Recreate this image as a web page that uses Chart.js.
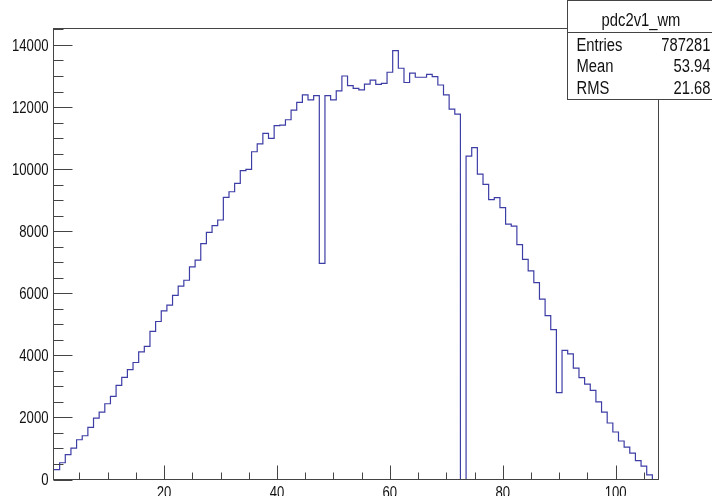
<!DOCTYPE html>
<html><head><meta charset="utf-8">
<script src="https://cdn.jsdelivr.net/npm/chart.js@4.4.1/dist/chart.umd.min.js"></script>
<style>html,body{margin:0;padding:0;background:#fff;overflow:hidden;width:712px;height:496px}canvas{display:block}</style>
</head><body><canvas id="c" width="712" height="515"></canvas>
<script>
const histName = 'pdc2v1_wm';
const xRange = [0.5, 107.5];
const counts = [
  320, 540, 800, 1010, 1280, 1410, 1680, 1980, 2170, 2440,
  2680, 3030, 3290, 3540, 3770, 4110, 4290, 4770, 5090, 5430,
  5620, 5930, 6230, 6420, 6850, 7070, 7600, 7960, 8180, 8360,
  9090, 9270, 9540, 9950, 9990, 10560, 10810, 11150, 10990, 11400,
  11420, 11590, 11900, 12150, 12390, 12230, 12370, 6960, 12370, 12230,
  12520, 13000, 12690, 12600, 12550, 12740, 12870, 12730, 12760, 13120,
  13820, 13250, 12790, 13090, 12960, 12960, 13050, 12980, 12710, 12390,
  11930, 11770, 0, 10420, 10690, 9840, 9510, 9020, 9080, 8760,
  8230, 8160, 7570, 7090, 6720, 6340, 5810, 5280, 4830, 2800,
  4160, 4050, 3590, 3280, 3070, 2870, 2500, 2170, 1820, 1530,
  1240, 1040, 850, 610, 430, 150, 0
];
const xMajorTicks = [20, 40, 60, 80, 100];
const xMinorTicks = [5, 10, 15, 25, 30, 35, 45, 50, 55, 65, 70, 75, 85, 90, 95, 105];
const yMajorTicks = [0, 2000, 4000, 6000, 8000, 10000, 12000, 14000];
const yMinorTicks = [500, 1000, 1500, 2500, 3000, 3500, 4500, 5000, 5500, 6500, 7000, 7500,
  8500, 9000, 9500, 10500, 11000, 11500, 12500, 13000, 13500, 14500];
const yMax = 14530;
const statsRows = [['Entries', '787281'], ['Mean', '53.94'], ['RMS', '21.68']];

const FONT = "'Liberation Sans', Arial, sans-serif";
const NARROW = 0.82;

const binWidth = (xRange[1] - xRange[0]) / counts.length;
const points = counts.map((v, i) => ({ x: xRange[0] + i * binWidth, y: v }));
points.push({ x: xRange[1], y: counts[counts.length - 1] });

function narrowText(ctx, text, x, y, align) {
  ctx.save();
  ctx.translate(x, y);
  ctx.scale(NARROW, 1);
  ctx.textAlign = align;
  ctx.textBaseline = 'alphabetic';
  ctx.fillText(text, 0, 0);
  ctx.restore();
}

const framePlugin = {
  id: 'frame',
  afterDatasetsDraw(chart) {
    const ctx = chart.ctx;
    const xs = chart.scales.x, ys = chart.scales.y;
    const L = 53.5, R = 658.5, T = 28.5, B = 479.5;
    ctx.save();
    ctx.strokeStyle = '#444';
    ctx.lineWidth = 1;
    ctx.strokeRect(L, T, R - L, B - T);
    ctx.beginPath();
    xMajorTicks.forEach(v => { const p = Math.round(xs.getPixelForValue(v)) + 0.5; ctx.moveTo(p, B); ctx.lineTo(p, B - 14); });
    xMinorTicks.forEach(v => { const p = Math.round(xs.getPixelForValue(v)) + 0.5; ctx.moveTo(p, B); ctx.lineTo(p, B - 7); });
    yMajorTicks.forEach(v => { const p = Math.round(ys.getPixelForValue(v)) + 0.5; ctx.moveTo(L, p); ctx.lineTo(L + 19, p); });
    yMinorTicks.forEach(v => { const p = Math.round(ys.getPixelForValue(v)) + 0.5; if (p < T) return; ctx.moveTo(L, p); ctx.lineTo(L + 10, p); });
    ctx.stroke();
    // tick labels
    ctx.fillStyle = '#111';
    ctx.font = '16px ' + FONT;
    yMajorTicks.forEach(v => narrowText(ctx, String(v), 48.5, ys.getPixelForValue(v) + 5.8, 'right'));
    xMajorTicks.forEach(v => narrowText(ctx, String(v), xs.getPixelForValue(v), 497.5, 'center'));
    ctx.restore();
  },
  afterDraw(chart) {
    const ctx = chart.ctx;
    ctx.save();
    const bx = 567.5, by = 0.5, bw = 150, bh = 99;
    ctx.fillStyle = '#fff';
    ctx.fillRect(bx, by, bw, bh);
    ctx.strokeStyle = '#444';
    ctx.lineWidth = 1;
    ctx.strokeRect(bx, by, bw, bh);
    ctx.beginPath(); ctx.moveTo(bx, 32.5); ctx.lineTo(712, 32.5); ctx.stroke();
    ctx.fillStyle = '#111';
    ctx.font = '18px ' + FONT;
    narrowText(ctx, histName, 641, 26, 'center');
    const baselines = [50.5, 72, 93.5];
    statsRows.forEach((r, i) => {
      narrowText(ctx, r[0], 576.5, baselines[i], 'left');
      narrowText(ctx, r[1], 710.5, baselines[i], 'right');
    });
    ctx.restore();
  }
};

new Chart(document.getElementById('c'), {
  type: 'line',
  data: {
    datasets: [{
      data: points,
      stepped: 'before',
      borderColor: '#3d3da6',
      borderWidth: 1.2,
      pointRadius: 0,
      fill: false,
      tension: 0
    }]
  },
  options: {
    responsive: false,
    animation: false,
    devicePixelRatio: 1,
    layout: { padding: { top: 28.5, right: 54, left: 0, bottom: 0 } },
    plugins: { legend: { display: false }, tooltip: { enabled: false } },
    scales: {
      x: {
        type: 'linear', min: xRange[0], max: xRange[1],
        grid: { display: false }, border: { display: false },
        ticks: { display: false },
        afterBuildTicks: s => { s.ticks = xMajorTicks.map(v => ({ value: v })); },
        afterFit: s => { s.height = 35.5; }
      },
      y: {
        type: 'linear', min: 0, max: yMax,
        grid: { display: false }, border: { display: false },
        ticks: { display: false },
        afterBuildTicks: s => { s.ticks = yMajorTicks.map(v => ({ value: v })); },
        afterFit: s => { s.width = 54; }
      }
    }
  },
  plugins: [framePlugin]
});
</script>
</body></html>
